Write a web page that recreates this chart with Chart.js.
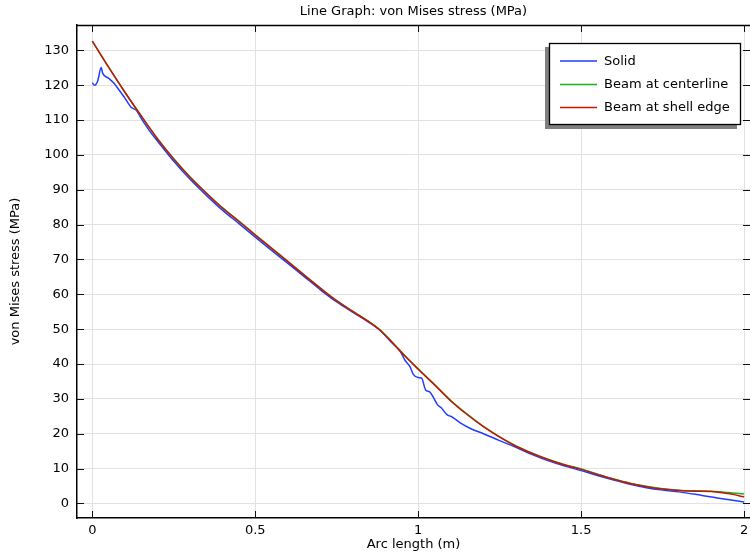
<!DOCTYPE html>
<html>
<head>
<meta charset="utf-8">
<title>von Mises stress</title>
<script src="https://cdn.jsdelivr.net/npm/chart.js@4.4.0/dist/chart.umd.min.js"></script>
<style>
  html, body { margin: 0; padding: 0; background: #fff; }
  #wrap { width: 750px; height: 554px; }
</style>
</head>
<body>
<div id="wrap"><canvas id="stressChart" width="750" height="554"></canvas></div>
<script>
// --- DATA ---
const xTicks = [0, 0.5, 1, 1.5, 2];
const xTickLabels = ['0', '0.5', '1', '1.5', '2'];
const yTicks = [0, 10, 20, 30, 40, 50, 60, 70, 80, 90, 100, 110, 120, 130];

// Solid
const solidS = [0, 0.007, 0.017, 0.027, 0.032, 0.05, 0.065, 0.081, 0.1, 0.12, 0.135, 0.15, 0.175, 0.2,
  0.25, 0.3, 0.35, 0.4, 0.45, 0.5, 0.55, 0.6, 0.65, 0.7, 0.75, 0.8, 0.85, 0.88, 0.92, 0.945, 0.96, 0.975,
  0.985, 1.0, 1.01, 1.023, 1.035, 1.06, 1.07, 1.09, 1.1, 1.129, 1.16, 1.2, 1.25, 1.3, 1.35, 1.4, 1.45,
  1.5, 1.55, 1.6, 1.65, 1.7, 1.75, 1.8, 1.85, 1.9, 1.95, 2.0];
const solidVals = [120.7, 120, 121.4, 125.1, 123.4, 122.0, 120.7, 118.8, 116.3, 113.6, 112.8, 110.5, 107.0, 104.0,
  98.2, 93.0, 88.4, 84.1, 80.3, 76.4, 72.6, 68.9, 65.1, 61.3, 57.8, 54.8, 51.9, 49.9, 46.0, 43.6, 41.0, 39.2,
  37.0, 36.1, 36.0, 32.5, 32.0, 28.2, 27.5, 25.3, 25.0, 23.1, 21.5, 20.0, 18.0, 16.1, 14.0, 12.2, 10.7,
  9.4, 8.0, 6.7, 5.5, 4.5, 3.8, 3.3, 2.6, 1.8, 1.1, 0.4];

// Beam at centerline
const centerS = [0, 0.05, 0.1, 0.15, 0.2, 0.25, 0.3, 0.35, 0.4, 0.45, 0.5, 0.55, 0.6, 0.65, 0.7, 0.75,
  0.8, 0.85, 0.88, 0.92, 0.96, 1.0, 1.05, 1.1, 1.15, 1.2, 1.25, 1.3, 1.35, 1.4, 1.45, 1.5, 1.55, 1.6,
  1.65, 1.7, 1.75, 1.8, 1.85, 1.9, 1.95, 2.0];
const centerVals = [132.7, 125.2, 118.0, 111.2, 104.7, 98.9, 93.7, 89.1, 84.8, 81.0, 77.1, 73.3, 69.5, 65.6, 61.8, 58.2,
  55.1, 52.1, 50.0, 46.3, 42.3, 38.6, 34.1, 29.5, 25.6, 22.1, 19.1, 16.5, 14.4, 12.6, 11.1, 9.9, 8.4, 7.0,
  5.8, 4.9, 4.2, 3.8, 3.6, 3.45, 3.1, 2.7];

// Beam at shell edge
const edgeS = [0, 0.05, 0.1, 0.15, 0.2, 0.25, 0.3, 0.35, 0.4, 0.45, 0.5, 0.55, 0.6, 0.65, 0.7, 0.75,
  0.8, 0.85, 0.88, 0.92, 0.96, 1.0, 1.05, 1.1, 1.15, 1.2, 1.25, 1.3, 1.35, 1.4, 1.45, 1.5, 1.55, 1.6,
  1.65, 1.7, 1.75, 1.8, 1.85, 1.9, 1.95, 2.0];
const edgeVals = [132.7, 125.2, 118.0, 111.2, 104.6, 98.8, 93.6, 89.0, 84.7, 80.9, 77.0, 73.2, 69.4, 65.5, 61.7, 58.1,
  55.0, 52.0, 49.9, 46.2, 42.2, 38.5, 34.0, 29.4, 25.5, 22.0, 19.0, 16.4, 14.3, 12.5, 11.0, 9.75, 8.3, 6.9,
  5.7, 4.8, 4.1, 3.7, 3.5, 3.4, 2.8, 1.9];

const seriesNames = ['Solid', 'Beam at centerline', 'Beam at shell edge'];
const seriesColors = ['#1f3cff', '#19b419', '#c81408'];

const FONT = 'DejaVu Sans';
const FONT_SIZE = 13;

function toPoints(xs, ys) {
  return xs.map((x, i) => ({ x: x, y: ys[i] }));
}

// --- PLUGIN: inward ticks, top frame, boxed legend with shadow ---
const frameAndLegend = {
  id: 'frameAndLegend',
  afterDatasetsDraw(chart) {
    const ctx = chart.ctx;
    const a = chart.chartArea;
    const xs = chart.scales.x, ys = chart.scales.y;
    const tl = 7;

    ctx.save();
    // top frame line
    ctx.strokeStyle = '#000';
    ctx.lineWidth = 1.5;
    ctx.beginPath();
    ctx.moveTo(a.left, a.top + 0.5);
    ctx.lineTo(a.right, a.top + 0.5);
    ctx.stroke();

    // inward ticks
    ctx.lineWidth = 1;
    ctx.strokeStyle = '#111';
    ctx.beginPath();
    xTicks.forEach(v => {
      const px = Math.round(xs.getPixelForValue(v)) + 0.5;
      ctx.moveTo(px, a.bottom); ctx.lineTo(px, a.bottom - tl);
      ctx.moveTo(px, a.top); ctx.lineTo(px, a.top + tl);
    });
    yTicks.forEach(v => {
      const py = Math.round(ys.getPixelForValue(v)) + 0.5;
      ctx.moveTo(a.left, py); ctx.lineTo(a.left + tl, py);
      ctx.moveTo(a.right, py); ctx.lineTo(a.right - tl, py);
    });
    ctx.stroke();

    // legend
    const bx = 549, by = 43, bw = 192, bh = 82;
    ctx.fillStyle = '#808080';
    ctx.fillRect(bx - 4, by + 4, bw, bh);
    ctx.fillStyle = '#fff';
    ctx.fillRect(bx, by, bw, bh);
    ctx.strokeStyle = '#000';
    ctx.lineWidth = 1.3;
    ctx.strokeRect(bx + 0.5, by + 0.5, bw - 1, bh - 1);

    ctx.font = FONT_SIZE + 'px "' + FONT + '"';
    ctx.textBaseline = 'middle';
    ctx.textAlign = 'left';
    const rows = [61, 84.5, 107.5];
    chart.data.datasets.forEach((ds, i) => {
      const y = rows[i];
      ctx.strokeStyle = ds.borderColor;
      ctx.lineWidth = 1.5;
      ctx.beginPath();
      ctx.moveTo(560, y); ctx.lineTo(597, y);
      ctx.stroke();
      ctx.fillStyle = '#000';
      ctx.fillText(ds.label, 604, y + 0.5);
    });
    ctx.restore();
  }
};

const ctx = document.getElementById('stressChart').getContext('2d');
const stressChart = new Chart(ctx, {
  type: 'line',
  data: {
    datasets: [
      { label: seriesNames[0], data: toPoints(solidS, solidVals), borderColor: seriesColors[0], order: 3 },
      { label: seriesNames[1], data: toPoints(centerS, centerVals), borderColor: seriesColors[1], order: 2 },
      { label: seriesNames[2], data: toPoints(edgeS, edgeVals), borderColor: seriesColors[2], order: 1 }
    ]
  },
  options: {
    responsive: false,
    animation: false,
    layout: { padding: 0 },
    elements: {
      point: { radius: 0 },
      line: { borderWidth: 1.5, cubicInterpolationMode: 'monotone', fill: false }
    },
    plugins: {
      legend: { display: false },
      tooltip: { enabled: false },
      title: {
        display: true,
        fullSize: false,
        text: 'Line Graph: von Mises stress (MPa)',
        color: '#000',
        font: { family: FONT, size: FONT_SIZE, weight: 'normal', lineHeight: 1.2 },
        padding: { top: 4, bottom: 5.4 }
      }
    },
    scales: {
      x: {
        type: 'linear',
        min: -0.047,
        max: 2.018,
        afterBuildTicks: s => { s.ticks = xTicks.map(v => ({ value: v })); },
        afterFit: s => { s.height = 36; s.paddingLeft = 0; s.paddingRight = 0; },
        ticks: {
          color: '#000',
          padding: 5,
          maxRotation: 0,
          font: { family: FONT, size: FONT_SIZE },
          callback: v => xTickLabels[xTicks.indexOf(v)] ?? ''
        },
        grid: { color: '#e2e2e2', lineWidth: 1, drawTicks: false },
        border: { display: true, color: '#000', width: 1.5 },
        title: {
          display: true,
          text: 'Arc length (m)',
          color: '#000',
          font: { family: FONT, size: FONT_SIZE },
          padding: { top: 0, bottom: 2 }
        }
      },
      y: {
        type: 'linear',
        min: -4.2,
        max: 137.3,
        afterBuildTicks: s => { s.ticks = yTicks.map(v => ({ value: v })); },
        afterFit: s => { s.width = 77; s.paddingTop = 0; s.paddingBottom = 0; },
        ticks: {
          color: '#000',
          padding: 8,
          font: { family: FONT, size: FONT_SIZE },
          callback: v => String(v)
        },
        grid: { color: '#e2e2e2', lineWidth: 1, drawTicks: false },
        border: { display: true, color: '#000', width: 1.5 },
        title: {
          display: true,
          text: 'von Mises stress (MPa)',
          color: '#000',
          font: { family: FONT, size: FONT_SIZE },
          padding: { top: 8, bottom: 0 }
        }
      }
    }
  },
  plugins: [frameAndLegend]
});
</script>
</body>
</html>
